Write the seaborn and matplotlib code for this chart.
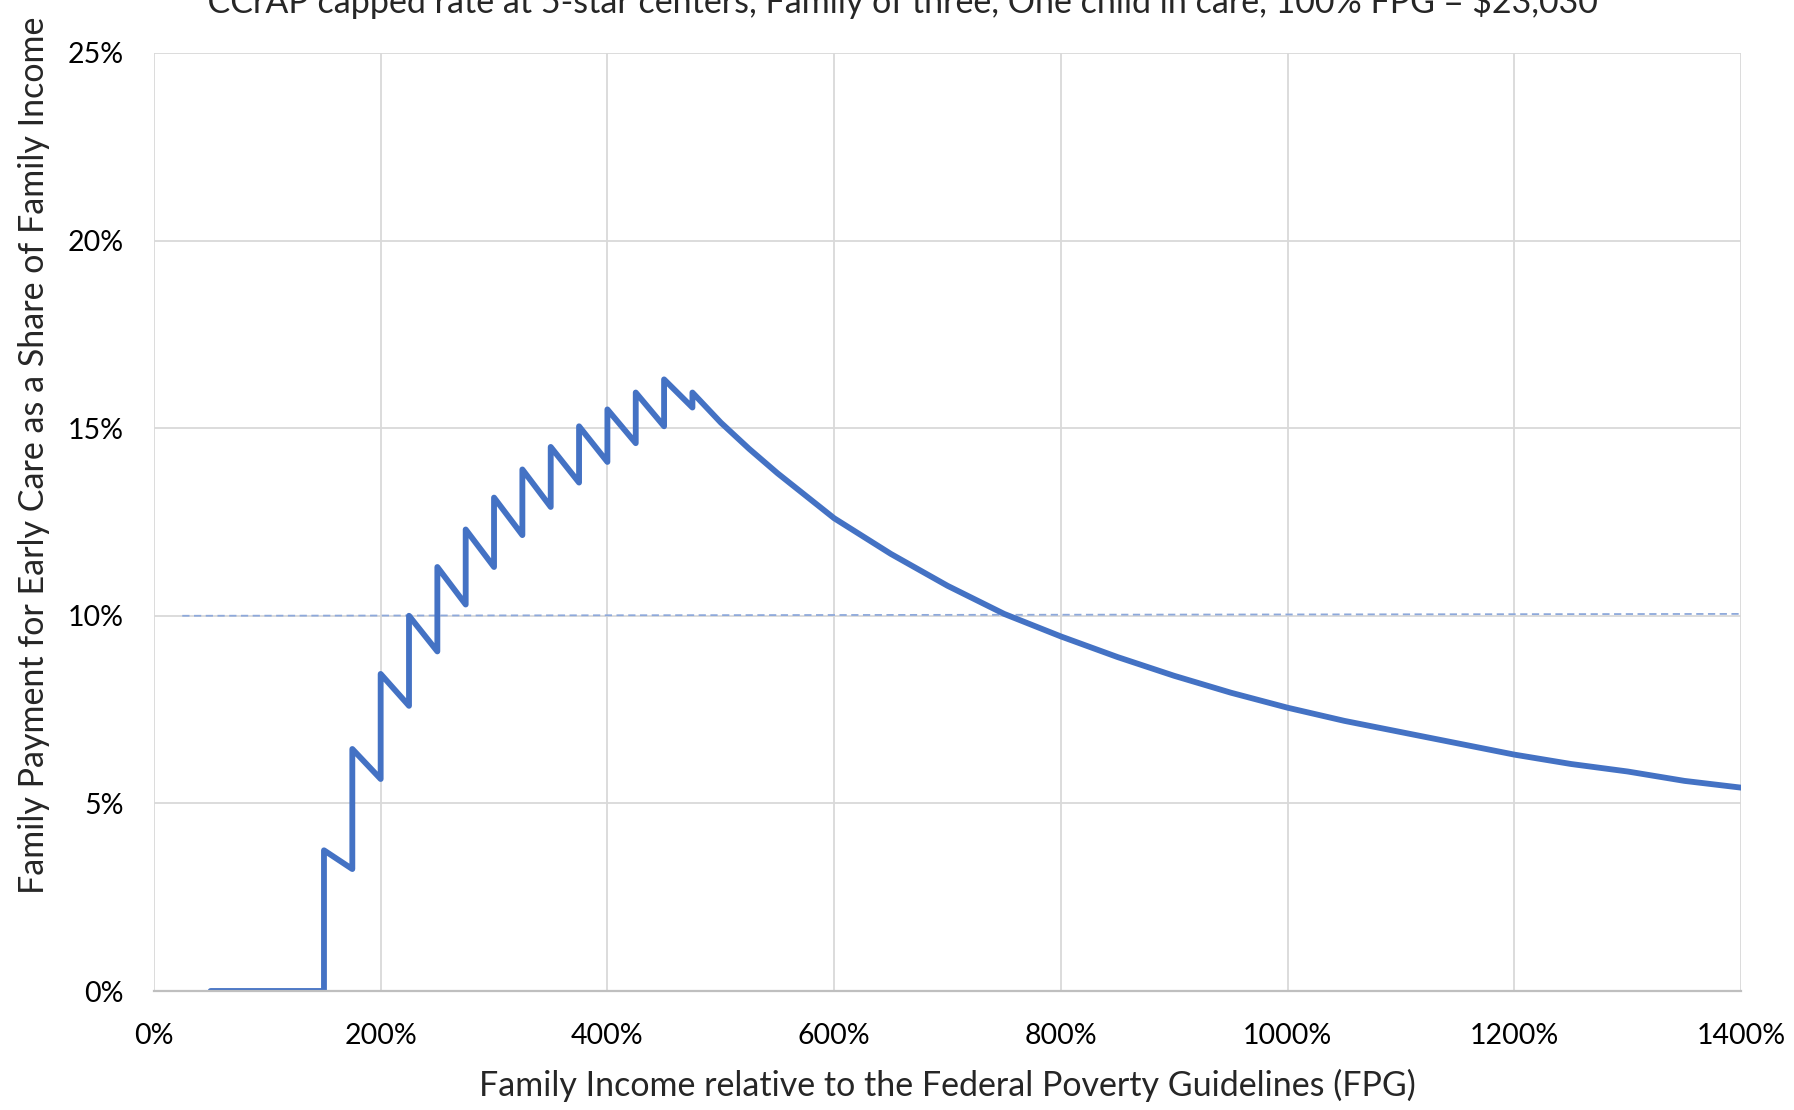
import pandas as pd
import matplotlib
import matplotlib.pyplot as plt
import seaborn as sns
from matplotlib.ticker import FuncFormatter

matplotlib.use('Agg')

# --- data (x = % of FPG, y = % of family income) ---
fpg_pct = [50, 150, 150, 175, 175, 200, 200, 225, 225, 250, 250, 275, 275,
           300, 300, 325, 325, 350, 350, 375, 375, 400, 400, 425, 425,
           450, 450, 475, 475, 500, 525, 550, 575, 600, 650, 700, 750,
           800, 850, 900, 950, 1000, 1050, 1100, 1150, 1200, 1250, 1300,
           1350, 1400]
payment_share = [0, 0, 3.75, 3.25, 6.45, 5.65, 8.45, 7.6, 10.0, 9.05, 11.3,
                 10.3, 12.3, 11.3, 13.15, 12.15, 13.9, 12.9, 14.5, 13.55,
                 15.05, 14.1, 15.5, 14.6, 15.95, 15.05, 16.3, 15.55, 15.95,
                 15.15, 14.45, 13.8, 13.2, 12.6, 11.65, 10.8, 10.05, 9.45,
                 8.9, 8.4, 7.95, 7.55, 7.2, 6.9, 6.6, 6.3, 6.05, 5.85, 5.6,
                 5.42]

# 10% affordability benchmark
bench_x = [25, 1400]
bench_y = [10.0, 10.05]

x_ticks = [0, 200, 400, 600, 800, 1000, 1200, 1400]
y_ticks = [0, 5, 10, 15, 20, 25]

title = ("*CCrAP capped rate at 5-star centers, Family of three, "
         "One child in care, 100% FPG = $23,030")
x_label = "Family Income relative to the Federal Poverty Guidelines (FPG)"
y_label = "Family Payment for Early Care as a Share of Family Income"

df = pd.DataFrame({"fpg": fpg_pct, "share": payment_share})
bench = pd.DataFrame({"fpg": bench_x, "share": bench_y})

sns.set_theme(style="whitegrid")
plt.rcParams['font.family'] = ['Lato', 'DejaVu Sans']

fig = plt.figure(figsize=(17.94, 11.10), dpi=100)
ax = fig.add_axes([0.0858, 0.1072, 0.8847, 0.8451])

sns.lineplot(data=bench, x="fpg", y="share", ax=ax, color="#8EA9DB",
             linewidth=1.3, linestyle=(0, (4, 2.5)), estimator=None, sort=False)
sns.lineplot(data=df, x="fpg", y="share", ax=ax, color="#4472C4",
             linewidth=4.2, estimator=None, sort=False)

ax.set_xlim(0, 1400)
ax.set_ylim(0, 25)
ax.set_xticks(x_ticks)
ax.set_yticks(y_ticks)
ax.xaxis.set_major_formatter(FuncFormatter(lambda v, _: f"{v:.0f}%"))
ax.yaxis.set_major_formatter(FuncFormatter(lambda v, _: f"{v:.0f}%"))
ax.grid(True, color="#D9D9D9", linewidth=1.3)
for side in ["top", "right", "left"]:
    ax.spines[side].set_visible(False)
ax.spines["bottom"].set_color("#BFBFBF")
ax.spines["bottom"].set_linewidth(1.6)
ax.tick_params(axis="x", labelsize=20.5, pad=23, colors="#000000", length=0)
ax.tick_params(axis="y", labelsize=20.5, pad=22, colors="#000000", length=0)
ax.set_xlabel(x_label, fontsize=24.5, labelpad=14)
ax.set_ylabel("")

fig.text(34 / 1794, 1 - 455 / 1110, y_label, rotation=90, fontsize=24.5,
         ha="center", va="center")
fig.text(895 / 1794, 1 - 13 / 1110, title, fontsize=24.5, ha="center",
         va="baseline")

fig.savefig("out.png", dpi=100, facecolor="white")
plt.close(fig)
